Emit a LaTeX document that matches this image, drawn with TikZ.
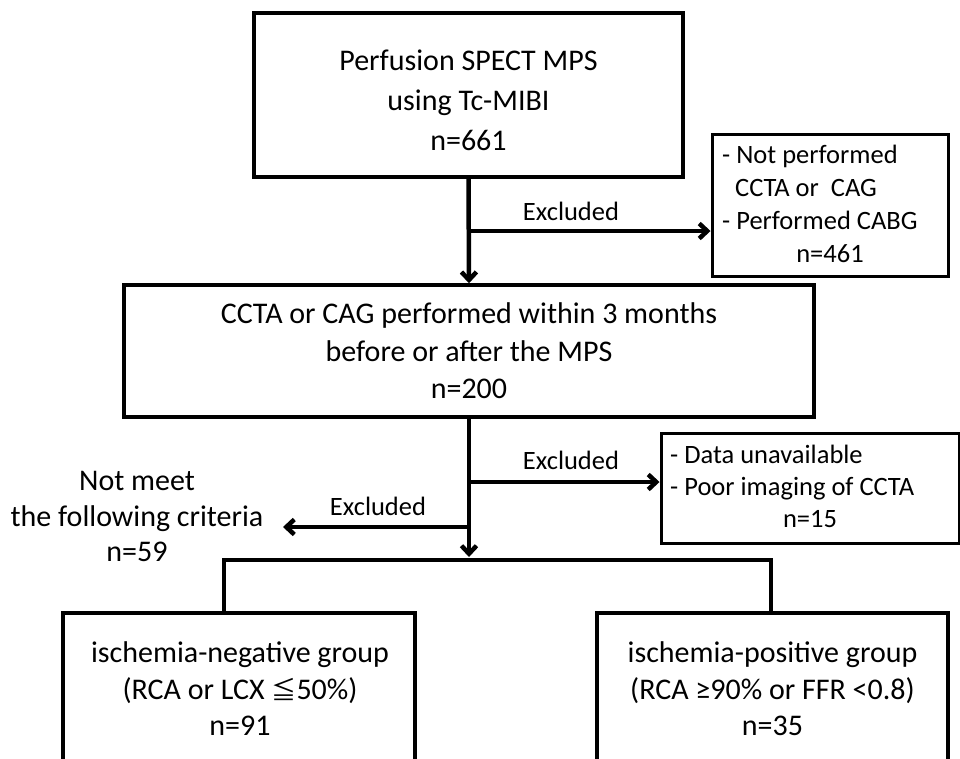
\documentclass[tikz,border=0pt]{standalone}
\usepackage{fontspec}
\setmainfont{Carlito}
\newfontfamily\cjkfont{Noto Sans CJK JP}
\usetikzlibrary{arrows.meta}
\begin{document}
\begin{tikzpicture}[x=1pt,y=-1pt,
  box/.style={draw,line width=3.5pt,inner sep=0pt},
  exbox/.style={draw,line width=3pt,inner sep=0pt},
  conn/.style={line width=4.5pt,-{Straight Barb[length=8pt,width=15pt]}},
  plainline/.style={line width=4.5pt},
  big/.style={font=\fontsize{30}{36}\selectfont,inner sep=0pt},
  small/.style={font=\fontsize{26.5}{32}\selectfont,inner sep=0pt},
]
\useasboundingbox (0,0) rectangle (960,758);
\clip (0,0) rectangle (960,758);

% boxes
\node[box,minimum width=429pt,minimum height=164pt] (top) at (468.5,95) {};
\node[exbox,minimum width=236pt,minimum height=142pt] (ex1) at (830,205) {};
\node[box,minimum width=690pt,minimum height=132pt] (mid) at (469,351) {};
\node[exbox,minimum width=298pt,minimum height=110pt] (ex2) at (810,488) {};
\node[box,minimum width=352pt,minimum height=177pt] (neg) at (239,701.5) {};
\node[box,minimum width=351pt,minimum height=177pt] (pos) at (772.5,701.5) {};

% texts
\node[big,anchor=base] (top1) at (468.5,70) {Perfusion SPECT MPS};
\node[big,anchor=base] (top2) at (468.5,110) {using Tc-MIBI};
\node[big,anchor=base] (top3) at (468.5,150) {n=661};

\node[small,anchor=base west] (ex1a) at (722,163) {- Not performed};
\node[small,anchor=base west] (ex1b) at (735,196) {CCTA or~~CAG};
\node[small,anchor=base west] (ex1c) at (722,229) {- Performed CABG};
\node[small,anchor=base] (ex1d) at (830,262) {n=461};

\node[big,anchor=base] (mid1) at (469,323) {CCTA or CAG performed within 3 months};
\node[big,anchor=base] (mid2) at (469,361) {before or after the MPS};
\node[big,anchor=base] (mid3) at (469,398) {n=200};

\node[small,anchor=base west] (ex2a) at (670,463) {- Data unavailable};
\node[small,anchor=base west] (ex2b) at (670,495) {- Poor imaging of CCTA};
\node[small,anchor=base] (ex2c) at (810,527) {n=15};

\node[big,anchor=base] (nm1) at (137,490) {Not meet};
\node[big,anchor=base] (nm2) at (137,526) {the following criteria};
\node[big,anchor=base] (nm3) at (137,561) {n=59};

\node[big,anchor=base] (neg1) at (240,662) {ischemia-negative group};
\node[big,anchor=base] (neg2) at (240,699) {(RCA or LCX {\cjkfont\fontsize{25}{30}\selectfont ≦}50\%)};
\node[big,anchor=base] (neg3) at (240,735) {n=91};

\node[big,anchor=base] (pos1) at (772.5,662) {ischemia-positive group};
\node[big,anchor=base] (pos2) at (772.5,699) {(RCA ≥90\% or FFR <0.8)};
\node[big,anchor=base] (pos3) at (772.5,735) {n=35};

\node[small,anchor=base] (exc1) at (571,220) {Excluded};
\node[small,anchor=base] (exc2) at (571,469) {Excluded};
\node[small,anchor=base] (exc3) at (378,515) {Excluded};

% connectors
\draw[conn] (top.south) -- (mid.north);
\draw[conn] (top.south |- 0,231) -- (ex1.west |- 0,231);
\draw[conn] (mid.south) -- (mid.south |- 0,557);
\draw[conn] (mid.south |- 0,482) -- (ex2.west |- 0,482);
\coordinate (nmtip) at (283,527);
\draw[conn] (mid.south |- 0,527) -- (nmtip);
\coordinate (bl) at (224,560);
\coordinate (br) at (771,560);
\draw[plainline] (bl |- neg.north) -- (bl) -- (br) -- (br |- pos.north);
\end{tikzpicture}
\end{document}
